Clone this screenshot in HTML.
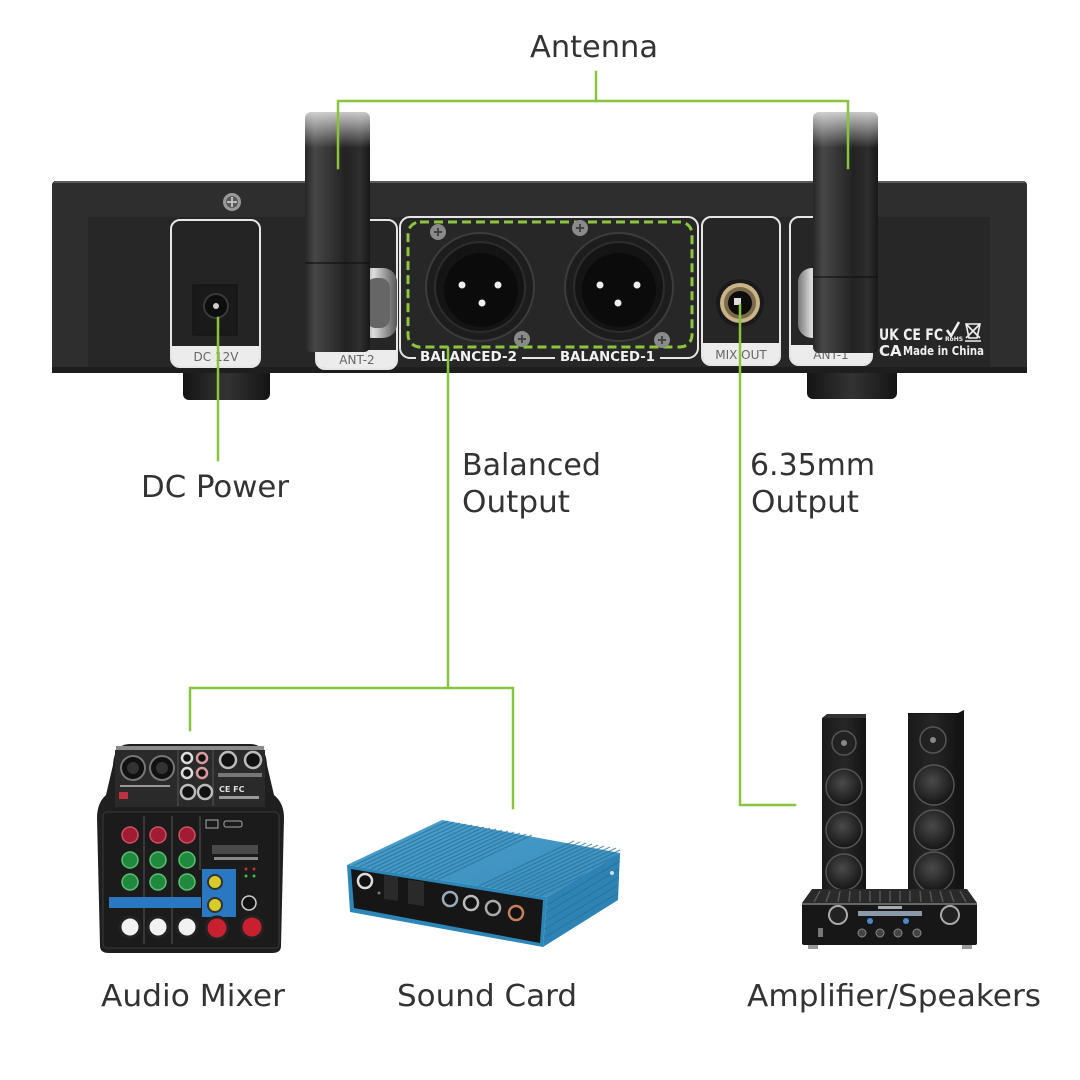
<!DOCTYPE html>
<html><head><meta charset="utf-8">
<style>html,body{margin:0;padding:0;background:#fff;}svg{display:block;}</style>
</head><body>
<svg width="1080" height="1080" viewBox="0 0 1080 1080" xmlns="http://www.w3.org/2000/svg">
<defs>
 <linearGradient id="ant" x1="0" x2="1" y1="0" y2="0">
  <stop offset="0" stop-color="#262626"/>
  <stop offset="0.15" stop-color="#474747"/>
  <stop offset="0.45" stop-color="#303030"/>
  <stop offset="0.62" stop-color="#222"/>
  <stop offset="0.85" stop-color="#2e2e2e"/>
  <stop offset="1" stop-color="#181818"/>
 </linearGradient>
 <linearGradient id="fade" x1="0" x2="0" y1="0" y2="1">
  <stop offset="0" stop-color="#fff" stop-opacity="1"/>
  <stop offset="1" stop-color="#fff" stop-opacity="0"/>
 </linearGradient>
 <linearGradient id="silver" x1="0" x2="1" y1="0" y2="0">
  <stop offset="0" stop-color="#777"/>
  <stop offset="0.4" stop-color="#ddd"/>
  <stop offset="0.7" stop-color="#999"/>
  <stop offset="1" stop-color="#555"/>
 </linearGradient>
 <linearGradient id="foot" x1="0" x2="1" y1="0" y2="0">
  <stop offset="0" stop-color="#141414"/>
  <stop offset="0.5" stop-color="#333"/>
  <stop offset="1" stop-color="#141414"/>
 </linearGradient>
 <radialGradient id="woof" cx="0.45" cy="0.4" r="0.6">
  <stop offset="0" stop-color="#4a4a4a"/>
  <stop offset="1" stop-color="#151515"/>
 </radialGradient>
 <linearGradient id="spk" x1="0" x2="1" y1="0" y2="0">
  <stop offset="0" stop-color="#1a1a1a"/>
  <stop offset="0.5" stop-color="#262626"/>
  <stop offset="1" stop-color="#141414"/>
 </linearGradient>
 <linearGradient id="blueTop" x1="0" x2="1" y1="0" y2="1">
  <stop offset="0" stop-color="#4aa0cc"/>
  <stop offset="1" stop-color="#3a8dbb"/>
 </linearGradient>
</defs>

<rect width="1080" height="1080" fill="#fff"/>

<!-- ===== Receiver ===== -->
<rect x="183" y="366" width="87" height="34" rx="6" fill="url(#foot)"/>
<rect x="807" y="366" width="90" height="33" rx="6" fill="url(#foot)"/>

<rect x="52" y="181" width="975" height="192" rx="4" fill="#2e2e2e"/>
<rect x="54" y="181" width="971" height="2" fill="#5a5a5a"/>
<rect x="88" y="217" width="902" height="150" fill="#272727"/>
<rect x="52" y="367" width="975" height="6" fill="#1e1e1e"/>

<!-- top screw -->
<circle cx="232" cy="202" r="9" fill="#9a9a9a"/>
<circle cx="232" cy="202" r="6" fill="#5a5a5a"/>
<path d="M227 202 H237 M232 197 V207" stroke="#bbb" stroke-width="2"/>

<!-- DC box -->
<rect x="171" y="220" width="89" height="147" rx="9" fill="#242424" stroke="#e6e6e6" stroke-width="2"/>
<path d="M172 346 H259 V358 Q259 366 251 366 H180 Q172 366 172 358 Z" fill="#ececec"/>
<text x="216" y="361" font-family="DejaVu Sans, sans-serif" font-size="12" text-anchor="middle" fill="#666">DC 12V</text>
<rect x="193" y="285" width="44" height="50" fill="#1a1a1a" stroke="#111"/>
<circle cx="216" cy="306" r="12" fill="#0d0d0d" stroke="#3a3a3a" stroke-width="2"/>
<circle cx="216" cy="306" r="3" fill="#ccc"/>

<!-- ANT-2 box -->
<rect x="316" y="220" width="81" height="149" rx="9" fill="#262626" stroke="#e6e6e6" stroke-width="2"/>
<path d="M317 350 H396 V360 Q396 368 388 368 H325 Q317 368 317 360 Z" fill="#ececec"/>
<text x="357" y="364" font-family="DejaVu Sans, sans-serif" font-size="12" text-anchor="middle" fill="#666">ANT-2</text>
<rect x="358" y="268" width="39" height="70" rx="14" fill="url(#silver)"/>
<rect x="366" y="278" width="24" height="50" rx="10" fill="#666"/>

<!-- Balanced box -->
<rect x="400" y="217" width="298" height="141" rx="10" fill="#272727" stroke="#e6e6e6" stroke-width="2"/>
<rect x="408" y="222" width="284" height="125" rx="12" fill="none" stroke="#8cc63f" stroke-width="3" stroke-dasharray="9 5"/>
<!-- XLR 2 -->
<circle cx="480" cy="287" r="54" fill="#1d1d1d" stroke="#3c3c3c" stroke-width="2"/>
<circle cx="480" cy="287" r="45" fill="#141414" stroke="#2d2d2d" stroke-width="2"/>
<circle cx="481" cy="290" r="37" fill="#0b0b0b"/>
<circle cx="462" cy="285" r="3.5" fill="#eee"/>
<circle cx="498" cy="285" r="3.5" fill="#eee"/>
<circle cx="482" cy="303" r="3.5" fill="#eee"/>
<!-- XLR 1 -->
<circle cx="619" cy="287" r="54" fill="#1d1d1d" stroke="#3c3c3c" stroke-width="2"/>
<circle cx="619" cy="287" r="45" fill="#141414" stroke="#2d2d2d" stroke-width="2"/>
<circle cx="619" cy="290" r="37" fill="#0b0b0b"/>
<circle cx="600" cy="285" r="3.5" fill="#eee"/>
<circle cx="637" cy="285" r="3.5" fill="#eee"/>
<circle cx="618" cy="303" r="3.5" fill="#eee"/>
<!-- screws -->
<g fill="#8a8a8a">
 <circle cx="438" cy="232" r="8"/><circle cx="580" cy="228" r="8"/>
 <circle cx="522" cy="339" r="8"/><circle cx="662" cy="340" r="8"/>
</g>
<g stroke="#444" stroke-width="2">
 <path d="M434 232 H442 M438 228 V236"/><path d="M576 228 H584 M580 224 V232"/>
 <path d="M518 339 H526 M522 335 V343"/><path d="M658 340 H666 M662 336 V344"/>
</g>
<rect x="416" y="350" width="106" height="14" fill="#272727"/>
<rect x="555" y="350" width="105" height="14" fill="#272727"/>
<text x="420" y="361" font-family="DejaVu Sans, sans-serif" font-size="13" font-weight="bold" fill="#f2f2f2" textLength="97" lengthAdjust="spacingAndGlyphs">BALANCED-2</text>
<text x="560" y="361" font-family="DejaVu Sans, sans-serif" font-size="13" font-weight="bold" fill="#f2f2f2" textLength="95" lengthAdjust="spacingAndGlyphs">BALANCED-1</text>

<!-- MIX OUT box -->
<rect x="702" y="217" width="78" height="148" rx="9" fill="#262626" stroke="#e6e6e6" stroke-width="2"/>
<path d="M703 343 H779 V356 Q779 364 771 364 H711 Q703 364 703 356 Z" fill="#ececec"/>
<text x="741" y="359" font-family="DejaVu Sans, sans-serif" font-size="12" text-anchor="middle" fill="#666">MIX OUT</text>
<circle cx="740" cy="303" r="24" fill="#1a1a1a"/>
<circle cx="740" cy="303" r="20" fill="#c8b488"/>
<circle cx="740" cy="303" r="16" fill="#7a6a48"/>
<circle cx="740" cy="303" r="12" fill="#0c0c0c"/>
<rect x="734" y="298" width="7" height="7" fill="#ddd"/>

<!-- ANT-1 box -->
<rect x="790" y="217" width="82" height="148" rx="9" fill="#262626" stroke="#e6e6e6" stroke-width="2"/>
<path d="M791 345 H871 V356 Q871 364 863 364 H799 Q791 364 791 356 Z" fill="#ececec"/>
<text x="831" y="359" font-family="DejaVu Sans, sans-serif" font-size="12" text-anchor="middle" fill="#666">ANT-1</text>
<rect x="798" y="268" width="34" height="70" rx="14" fill="url(#silver)"/>

<!-- cert marks -->
<text x="879" y="340" font-family="DejaVu Sans, sans-serif" font-size="16" font-weight="bold" fill="#f0f0f0" textLength="64" lengthAdjust="spacingAndGlyphs">UK CE FC</text>
<path d="M947 330 L951 336 L959 322" stroke="#f0f0f0" stroke-width="2.5" fill="none"/>
<text x="945" y="341" font-family="DejaVu Sans, sans-serif" font-size="6" font-weight="bold" fill="#f0f0f0">RoHS</text>
<path d="M966 324 H980 L977 338 H969 Z M966 324 L980 338 M980 324 L966 338 M965 341 H981" stroke="#f0f0f0" stroke-width="1.6" fill="none"/>
<text x="879" y="356" font-family="DejaVu Sans, sans-serif" font-size="15" font-weight="bold" fill="#f0f0f0">CA</text>
<text x="903" y="355" font-family="DejaVu Sans, sans-serif" font-size="12" font-weight="bold" fill="#f0f0f0" textLength="81" lengthAdjust="spacingAndGlyphs">Made in China</text>

<!-- antennas -->
<rect x="305" y="112" width="65" height="240" rx="6" fill="url(#ant)"/>
<rect x="305" y="262" width="65" height="2" fill="#111" opacity="0.6"/>
<rect x="813" y="112" width="65" height="241" rx="6" fill="url(#ant)"/>
<rect x="813" y="276" width="65" height="2" fill="#111" opacity="0.6"/>
<rect x="298" y="100" width="80" height="48" fill="url(#fade)"/>
<rect x="806" y="100" width="80" height="48" fill="url(#fade)"/>

<!-- ===== Audio Mixer ===== -->
<path d="M100 946 L97 818 Q97 803 106 795 L113 765 Q114 744 130 744 L250 744 Q266 744 267 765 L274 795 Q284 803 284 818 L281 946 Q281 953 272 953 L109 953 Q100 953 100 946 Z" fill="#1f1f1f"/>
<rect x="116" y="746" width="148" height="4" fill="#8a8a8a"/>
<rect x="115" y="750" width="150" height="57" fill="#2a2a2a"/>
<g fill="#111" stroke="#777" stroke-width="2">
 <circle cx="133" cy="768" r="12"/><circle cx="162" cy="768" r="12"/>
</g>
<g fill="#333"><circle cx="133" cy="768" r="6"/><circle cx="162" cy="768" r="6"/></g>
<rect x="119" y="792" width="9" height="7" fill="#c03040"/>
<rect x="120" y="785" width="50" height="2" fill="#999"/>
<path d="M178 750 V806 M213 750 V806" stroke="#555"/>
<g fill="#111" stroke-width="2.5">
 <circle cx="187" cy="758" r="5" stroke="#ddd"/><circle cx="202" cy="758" r="5" stroke="#d89aa0"/>
 <circle cx="187" cy="773" r="5" stroke="#ddd"/><circle cx="202" cy="773" r="5" stroke="#d89aa0"/>
 <circle cx="188" cy="792" r="7" stroke="#bbb"/><circle cx="205" cy="792" r="7" stroke="#bbb"/>
 <circle cx="228" cy="760" r="8" stroke="#bbb"/><circle cx="253" cy="760" r="8" stroke="#bbb"/>
</g>
<rect x="218" y="773" width="44" height="4" fill="#777"/>
<text x="219" y="792" font-family="DejaVu Sans, sans-serif" font-size="8" font-weight="bold" fill="#ddd">CE FC</text>
<rect x="219" y="796" width="40" height="3" fill="#999"/>
<rect x="103" y="812" width="176" height="136" rx="4" fill="#1b1b1b" stroke="#3a3a3a"/>
<path d="M144 816 V944 M172 816 V944 M200 816 V870" stroke="#555"/>
<rect x="206" y="820" width="12" height="8" fill="none" stroke="#aaa"/>
<rect x="224" y="821" width="18" height="6" rx="2" fill="none" stroke="#aaa"/>
<rect x="212" y="845" width="46" height="9" fill="#4a4a4a"/>
<rect x="214" y="857" width="44" height="3" fill="#888"/>
<g fill="#a01c32" stroke="#d05060" stroke-width="1.5">
 <circle cx="130" cy="835" r="8"/><circle cx="158" cy="835" r="8"/><circle cx="187" cy="835" r="8"/>
</g>
<g fill="#1f8a3e" stroke="#5cc070" stroke-width="1.5">
 <circle cx="130" cy="860" r="8"/><circle cx="158" cy="860" r="8"/><circle cx="187" cy="860" r="8"/>
 <circle cx="130" cy="882" r="8"/><circle cx="158" cy="882" r="8"/><circle cx="187" cy="882" r="8"/>
</g>
<rect x="109" y="897" width="92" height="11" fill="#2a78c2"/>
<rect x="202" y="869" width="34" height="48" fill="#2a78c2"/>
<g fill="#d8cc2a" stroke="#333" stroke-width="2">
 <circle cx="215" cy="882" r="7"/><circle cx="215" cy="905" r="7"/>
</g>
<g fill="#c03030"><circle cx="246" cy="869" r="1.5"/><circle cx="254" cy="869" r="1.5"/></g>
<g fill="#40c040"><circle cx="246" cy="876" r="1.5"/><circle cx="254" cy="876" r="1.5"/></g>
<circle cx="249" cy="903" r="7" fill="#111" stroke="#ccc" stroke-width="1.5"/>
<g fill="#f2f2f2" stroke="#222" stroke-width="3">
 <circle cx="130" cy="927" r="10"/><circle cx="158" cy="927" r="10"/><circle cx="187" cy="927" r="10"/>
</g>
<g fill="#c8202e" stroke="#222" stroke-width="3">
 <circle cx="217" cy="928" r="11"/><circle cx="252" cy="927" r="11"/>
</g>

<!-- ===== Sound Card ===== -->
<polygon points="347,865 442,820 620,853 547,897" fill="url(#blueTop)"/>
<g id="ribs" stroke="#2a6f98" stroke-width="1.2" opacity="0.75">
 <line x1="353" y1="866" x2="448" y2="821"/><line x1="359" y1="867" x2="454" y2="822"/>
 <line x1="365" y1="868" x2="460" y2="823"/><line x1="371" y1="869" x2="466" y2="824"/>
 <line x1="377" y1="870" x2="472" y2="825"/><line x1="383" y1="871" x2="478" y2="826"/>
 <line x1="389" y1="872" x2="484" y2="827"/><line x1="395" y1="873" x2="490" y2="828"/>
 <line x1="401" y1="874" x2="496" y2="829"/><line x1="407" y1="875" x2="502" y2="830"/>
 <line x1="413" y1="876" x2="508" y2="831"/><line x1="419" y1="877" x2="514" y2="832"/>
 <line x1="425" y1="878" x2="520" y2="833"/><line x1="431" y1="879" x2="526" y2="834"/>
 <line x1="437" y1="880" x2="532" y2="835"/>
 <line x1="479" y1="886" x2="574" y2="841"/><line x1="485" y1="887" x2="580" y2="842"/>
 <line x1="491" y1="888" x2="586" y2="843"/><line x1="497" y1="889" x2="592" y2="844"/>
 <line x1="503" y1="890" x2="598" y2="845"/><line x1="509" y1="891" x2="604" y2="846"/>
 <line x1="515" y1="892" x2="610" y2="847"/><line x1="521" y1="893" x2="616" y2="848"/>
 <line x1="527" y1="894" x2="620" y2="850"/><line x1="533" y1="895" x2="620" y2="854"/>
 <line x1="539" y1="896" x2="620" y2="858"/>
</g>
<polygon points="547,897 620,853 618,900 543,947" fill="#2c83b4"/>
<g stroke="#236d98" stroke-width="1" opacity="0.7">
 <line x1="547" y1="905" x2="620" y2="861"/><line x1="546" y1="913" x2="619" y2="869"/>
 <line x1="546" y1="921" x2="619" y2="877"/><line x1="545" y1="929" x2="618" y2="885"/>
 <line x1="545" y1="937" x2="618" y2="893"/>
</g>
<circle cx="612" cy="873" r="2" fill="#cde"/>
<polygon points="347,865 547,897 543,947 350,912" fill="#2c86b8"/>
<polygon points="351,869 543,900 540,943 354,908" fill="#161616"/>
<circle cx="365" cy="881" r="7" fill="#111" stroke="#ddd" stroke-width="2.5"/>
<circle cx="379" cy="893" r="1.5" fill="#777"/>
<rect x="384" y="876" width="14" height="24" fill="#2a2a2a" transform="skewY(9) translate(0,-62)"/>
<rect x="408" y="880" width="16" height="24" fill="#2a2a2a" transform="skewY(9) translate(0,-65)"/>
<circle cx="450" cy="899" r="7" fill="#111" stroke="#9ab" stroke-width="2.5"/>
<circle cx="471" cy="903" r="7" fill="#111" stroke="#bbb" stroke-width="2.5"/>
<circle cx="493" cy="908" r="7" fill="#111" stroke="#aaa" stroke-width="2.5"/>
<circle cx="516" cy="913" r="7" fill="#111" stroke="#c8805a" stroke-width="2.5"/>

<!-- ===== Speakers / Amplifier ===== -->
<polygon points="822,718 827,714 866,714 866,718" fill="#333"/>
<rect x="822" y="718" width="44" height="177" fill="url(#spk)"/>
<polygon points="908,713 958,713 964,710 964,895 908,895" fill="#141414"/>
<rect x="908" y="714" width="49" height="181" fill="url(#spk)"/>
<g stroke="#555" stroke-width="1.5">
 <circle cx="844" cy="743" r="12" fill="#222"/>
 <circle cx="933" cy="740" r="13" fill="#222"/>
 <circle cx="844" cy="787" r="18" fill="url(#woof)"/>
 <circle cx="844" cy="830" r="18" fill="url(#woof)"/>
 <circle cx="844" cy="872" r="18" fill="url(#woof)"/>
 <circle cx="934" cy="785" r="20" fill="url(#woof)"/>
 <circle cx="934" cy="830" r="20" fill="url(#woof)"/>
 <circle cx="934" cy="872" r="20" fill="url(#woof)"/>
</g>
<circle cx="844" cy="743" r="3" fill="#888"/>
<circle cx="933" cy="740" r="3" fill="#888"/>
<polygon points="812,889 967,889 977,903 802,903" fill="#2a2a2a"/>
<g stroke="#555" stroke-width="1.5">
 <line x1="820" y1="891" x2="814" y2="902"/><line x1="830" y1="891" x2="826" y2="902"/>
 <line x1="840" y1="891" x2="838" y2="902"/><line x1="850" y1="891" x2="849" y2="902"/>
 <line x1="860" y1="891" x2="860" y2="902"/><line x1="870" y1="891" x2="870" y2="902"/>
 <line x1="880" y1="891" x2="880" y2="902"/><line x1="890" y1="891" x2="890" y2="902"/>
 <line x1="900" y1="891" x2="900" y2="902"/><line x1="910" y1="891" x2="910" y2="902"/>
 <line x1="920" y1="891" x2="921" y2="902"/><line x1="930" y1="891" x2="932" y2="902"/>
 <line x1="940" y1="891" x2="943" y2="902"/><line x1="950" y1="891" x2="954" y2="902"/>
 <line x1="960" y1="891" x2="966" y2="902"/>
</g>
<rect x="802" y="903" width="175" height="42" rx="2" fill="#171717"/>
<rect x="802" y="903" width="175" height="2" fill="#666"/>
<rect x="878" y="906" width="24" height="3" fill="#aaa"/>
<circle cx="838" cy="915" r="9" fill="#222" stroke="#aaa" stroke-width="2"/>
<circle cx="950" cy="915" r="9" fill="#222" stroke="#aaa" stroke-width="2"/>
<rect x="858" y="911" width="64" height="5" fill="#8a9aaa"/>
<circle cx="870" cy="921" r="3" fill="#4a8ad0"/><circle cx="906" cy="921" r="3" fill="#4a8ad0"/>
<g fill="#444" stroke="#888"><circle cx="862" cy="933" r="4"/><circle cx="880" cy="933" r="4"/><circle cx="898" cy="933" r="4"/><circle cx="917" cy="933" r="4"/></g>
<rect x="818" y="928" width="5" height="9" fill="#777"/>
<rect x="808" y="945" width="10" height="4" fill="#999"/><rect x="962" y="945" width="10" height="4" fill="#999"/>

<!-- ===== Green connectors ===== -->
<g stroke="#88c43f" stroke-width="2.5" fill="none" stroke-linecap="square">
 <path d="M596 72 V101"/>
 <path d="M338 168 V101 H848 V168"/>
 <path d="M218 318 V460"/>
 <path d="M448 348 V688"/>
 <path d="M190 730 V688 H513 V808"/>
 <path d="M740 305 V805 H795"/>
</g>

<!-- ===== Labels ===== -->
<g font-family="DejaVu Sans, Liberation Sans, sans-serif" font-size="30" fill="#333">
 <text x="530" y="57" textLength="128" lengthAdjust="spacingAndGlyphs">Antenna</text>
 <text x="141" y="497" textLength="148" lengthAdjust="spacingAndGlyphs">DC Power</text>
 <text x="462" y="475" textLength="139" lengthAdjust="spacingAndGlyphs">Balanced</text>
 <text x="462" y="512" textLength="108" lengthAdjust="spacingAndGlyphs">Output</text>
 <text x="750" y="475" textLength="125" lengthAdjust="spacingAndGlyphs">6.35mm</text>
 <text x="751" y="512" textLength="108" lengthAdjust="spacingAndGlyphs">Output</text>
 <text x="101" y="1006" textLength="184" lengthAdjust="spacingAndGlyphs">Audio Mixer</text>
 <text x="397" y="1006" textLength="180" lengthAdjust="spacingAndGlyphs">Sound Card</text>
 <text x="747" y="1006" textLength="294" lengthAdjust="spacingAndGlyphs">Amplifier/Speakers</text>
</g>
</svg>
</body></html>
